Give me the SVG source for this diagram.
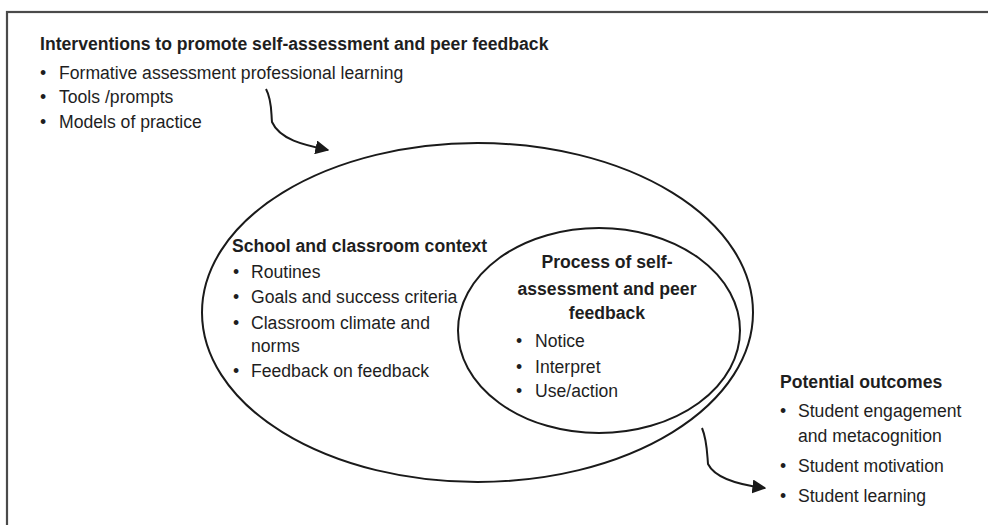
<svg xmlns="http://www.w3.org/2000/svg" width="988" height="525" viewBox="0 0 988 525">
<style>
text{font-family:"Liberation Sans",Arial,sans-serif;font-size:17.6px;fill:#1e1e1e}
.b{font-weight:bold}
.c{text-anchor:middle}
.shape{fill:none;stroke:#1a1a1a;stroke-width:2}
.conn{fill:none;stroke:#1a1a1a;stroke-width:2}
</style>
<defs>
<marker id="ah" viewBox="0 0 10 10" refX="9" refY="5" markerWidth="7" markerHeight="7" orient="auto" markerUnits="strokeWidth">
<path d="M0,0 L10,5 L0,10 z" fill="#1a1a1a"/>
</marker>
</defs>
<rect x="7" y="12" width="1000" height="540" fill="none" stroke="#4a4a4a" stroke-width="2.2"/>
<g id="interventions">
<text class="b" x="40" y="50">Interventions to promote self-assessment and peer feedback</text>
<text x="40" y="79">•</text><text x="59" y="79">Formative assessment professional learning</text>
<text x="40" y="103">•</text><text x="59" y="103">Tools /prompts</text>
<text x="40" y="128">•</text><text x="59" y="128">Models of practice</text>
</g>
<g id="context">
<ellipse class="shape" cx="477.5" cy="312.5" rx="275.5" ry="169.5"/>
<text class="b" x="232" y="252">School and classroom context</text>
<text x="233" y="278">•</text><text x="251" y="278">Routines</text>
<text x="233" y="303">•</text><text x="251" y="303">Goals and success criteria</text>
<text x="233" y="329">•</text><text x="251" y="329">Classroom climate and</text>
<text x="251" y="352">norms</text>
<text x="233" y="377">•</text><text x="251" y="377">Feedback on feedback</text>
</g>
<g id="process">
<ellipse class="shape" cx="599" cy="330.5" rx="141" ry="102.5"/>
<text class="b c" x="607" y="268">Process of self-</text>
<text class="b c" x="607" y="295">assessment and peer</text>
<text class="b c" x="607" y="319">feedback</text>
<text x="516" y="347">•</text><text x="535" y="347">Notice</text>
<text x="516" y="373">•</text><text x="535" y="373">Interpret</text>
<text x="516" y="397">•</text><text x="535" y="397">Use/action</text>
</g>
<g id="outcomes">
<text class="b" x="780" y="388">Potential outcomes</text>
<text x="780" y="417">•</text><text x="798" y="417">Student engagement</text>
<text x="798" y="442">and metacognition</text>
<text x="780" y="472">•</text><text x="798" y="472">Student motivation</text>
<text x="780" y="502">•</text><text x="798" y="502">Student learning</text>
</g>
<g id="connectors">
<path class="conn" d="M266,89 C272,100 271,112 272,122 C280,140 305,145 328,150" marker-end="url(#ah)"/>
<path class="conn" d="M702,428 C707,440 707,452 708,464 C715,478 740,485 765,488" marker-end="url(#ah)"/>
</g>
</svg>
